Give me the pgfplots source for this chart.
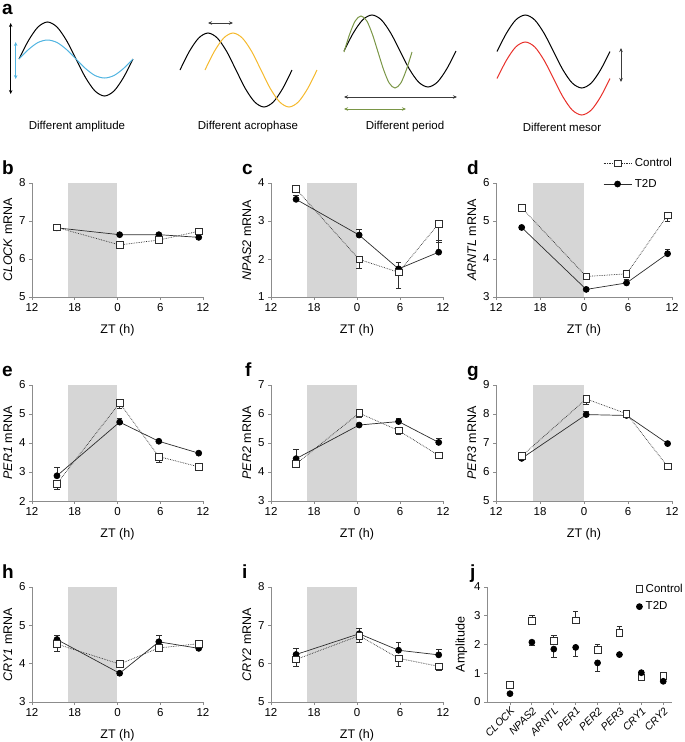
\documentclass[border=0pt]{standalone}
\usepackage{fontspec}
\setmainfont{Liberation Sans}
\usepackage{pgfplots}
\pgfplotsset{compat=1.18}
\usetikzlibrary{arrows.meta}
\definecolor{axg}{RGB}{140,140,140}
\definecolor{ln}{RGB}{45,45,45}
\definecolor{shd}{RGB}{214,214,214}
\definecolor{blu}{RGB}{80,180,225}
\definecolor{yel}{RGB}{245,185,45}
\definecolor{grn}{RGB}{122,150,70}
\definecolor{rd}{RGB}{232,48,42}
\definecolor{arrg}{RGB}{60,60,60}
\newcommand\tks{\fontsize{11.5}{13}\selectfont}
\newcommand\lbs{\fontsize{12.5}{14}\selectfont}
\newcommand\pl{\fontsize{19}{21}\selectfont\bfseries}
\pgfplotsset{
 base/.style={scale only axis, clip=false, axis x line*=bottom, axis y line*=left,
   axis line style={draw=axg, line width=0.8pt}, every tick/.style={draw=axg, line width=0.8pt},
   tick align=outside, major tick length=3pt,
   ticklabel style={font=\tks}, label style={font=\lbs},
   /pgf/number format/assume math mode=true, anchor=south west},
 tp/.style={base, xmin=-12, xmax=12, xtick={-12,-6,0,6,12}, xticklabels={12,18,0,6,12},
   xlabel={ZT (h)}, xlabel style={yshift=-6pt}, ytick distance=1},
 t2d/.style={ln, line width=0.7pt, mark=*, mark size=3pt, mark options={fill=black, draw=black, solid},
   error bars/y dir=plus, error bars/y explicit,
   error bars/error bar style={ln, line width=0.6pt, solid},
   error bars/error mark options={rotate=90, mark size=2.8pt, ln, line width=0.6pt, solid}},
 ctl/.style={ln, line width=0.7pt, densely dotted, mark=square*, mark size=3.3pt,
   mark options={fill=white, draw=ln, solid, line width=0.7pt},
   error bars/y dir=minus, error bars/y explicit,
   error bars/error bar style={ln, line width=0.6pt, solid},
   error bars/error mark options={rotate=90, mark size=2.8pt, ln, line width=0.6pt, solid}},
 wv/.style={smooth, line width=1pt, no marks},
 arr/.style={line width=0.8pt, {Stealth[length=4pt,width=3.5pt]}-{Stealth[length=4pt,width=3.5pt]}},
}
\begin{document}
\begin{tikzpicture}
\useasboundingbox (0,0) rectangle (685pt,-742pt);
% ---------- panel a ----------
\begin{axis}[scale only axis, width=685pt, height=140pt, at={(0pt,0pt)}, anchor=north west,
  xmin=0, xmax=685, ymin=0, ymax=140, y dir=reverse, axis lines=none, clip=false]
\addplot[wv, black] coordinates {(19,59) (28.5,40.5) (38,27) (47.5,22) (57,27) (66.5,40.5) (76,59) (85.5,77.5) (95,91) (104.5,96) (114,91) (123.5,77.5) (133,59)};
\addplot[wv, blu] coordinates {(19,59) (28.5,49.5) (38,42.5) (47.5,40) (57,42.5) (66.5,49.5) (76,59) (85.5,68.5) (95,75.5) (104.5,78) (114,75.5) (123.5,68.5) (133,59)};
\addplot[arr, black] coordinates {(10.7,23) (10.7,94)};
\addplot[arr, blu] coordinates {(15.7,42) (15.7,79)};
\addplot[wv, black] coordinates {(180,70) (189.3,51.5) (198.7,38) (208,33) (217.3,38) (226.7,51.5) (236,70) (245.3,88.5) (254.7,102) (264,107) (273.3,102) (282.7,88.5) (292,70)};
\addplot[wv, yel] coordinates {(205,70) (214.3,51.5) (223.7,38) (233,33) (242.3,38) (251.7,51.5) (261,70) (270.3,88.5) (279.7,102) (289,107) (298.3,102) (307.7,88.5) (317,70)};
\addplot[arr, arrg] coordinates {(208,23) (233,23)};
\addplot[wv, black] coordinates {(344,51) (353.3,33) (362.7,19.8) (372,15) (381.3,19.8) (390.7,33) (400,51) (409.3,69) (418.7,82.2) (428,87) (437.3,82.2) (446.7,69) (456,51)};
\addplot[wv, grn] coordinates {(344,52) (349.7,34) (355.3,20.8) (361,16) (366.7,20.8) (372.3,34) (378,52) (383.7,70) (389.3,83.2) (395,88) (400.7,83.2) (406.3,70) (412,52)};
\addplot[arr, arrg] coordinates {(344,97) (457,97)};
\addplot[arr, grn] coordinates {(344,109) (406,109)};
\addplot[wv, black] coordinates {(497,51.5) (506.4,33.3) (515.8,19.9) (525.3,15) (534.7,19.9) (544.1,33.3) (553.5,51.5) (562.9,69.8) (572.3,83.1) (581.8,88) (591.2,83.1) (600.6,69.8) (610,51.5)};
\addplot[wv, rd] coordinates {(497,78.5) (506.4,60.3) (515.8,46.9) (525.3,42) (534.7,46.9) (544.1,60.3) (553.5,78.5) (562.9,96.8) (572.3,110.1) (581.8,115) (591.2,110.1) (600.6,96.8) (610,78.5)};
\addplot[arr, arrg] coordinates {(621,48) (621,82)};
\node[font=\tks] at (axis cs:77,127) {Different amplitude};
\node[font=\tks] at (axis cs:248,127) {Different acrophase};
\node[font=\tks] at (axis cs:405,127) {Different period};
\node[font=\tks] at (axis cs:562,127) {Different mesor};
\end{axis}
% ---------- b ----------
\begin{axis}[tp, width=171pt, height=114pt, at={(32pt,-297pt)}, ymin=5, ymax=8, ylabel={\textit{CLOCK} mRNA}]
\addplot[fill=shd, draw=none] coordinates {(-7,5) (-7,8) (0,8) (0,5)} -- cycle;
\addplot[t2d] coordinates {(-8.5,6.82) (0.3,6.64) (5.8,6.64) (11.4,6.57)};
\addplot[ctl] coordinates {(-8.5,6.83) (0.3,6.37) (5.8,6.50) (11.4,6.73)};
\end{axis}
% ---------- c ----------
\begin{axis}[tp, width=172pt, height=114pt, at={(271pt,-297pt)}, ymin=1, ymax=4, ylabel={\textit{NPAS2} mRNA}]
\addplot[fill=shd, draw=none] coordinates {(-7,1) (-7,4) (0,4) (0,1)} -- cycle;
\addplot[t2d] coordinates {(-8.5,3.57) +- (0,0.1) (0.3,2.63) +- (0,0.14) (5.8,1.74) +- (0,0.17) (11.4,2.18) +- (0,0.32)};
\addplot[ctl] coordinates {(-8.5,3.84) (0.3,1.99) +- (0,0.24) (5.8,1.65) +- (0,0.42) (11.4,2.93) +- (0,0.5)};
\end{axis}
% ---------- d ----------
\begin{axis}[tp, width=176pt, height=114pt, at={(496pt,-297pt)}, ymin=3, ymax=6, ylabel={\textit{ARNTL} mRNA},
  legend style={draw=none, fill=none, at={(0.608,1.235)}, anchor=north west, font=\tks, row sep=7pt, inner sep=0pt,
    nodes={inner xsep=3pt}},
  legend cell align=left,
  legend image code/.code={\draw[mark repeat=2,mark phase=2,#1] plot coordinates {(0pt,0pt) (14pt,0pt) (28pt,0pt)};}]
\addplot[fill=shd, draw=none, forget plot] coordinates {(-7,3) (-7,6) (0,6) (0,3)} -- cycle;
\addplot[ctl] coordinates {(-8.5,5.35) (0.3,3.54) +- (0,0.05) (5.8,3.61) +- (0,0.05) (11.4,5.15) +- (0,0.17)};
\addlegendentry{Control}
\addplot[t2d] coordinates {(-8.5,4.83) (0.3,3.2) (5.8,3.37) +- (0,0.1) (11.4,4.14) +- (0,0.12)};
\addlegendentry{T2D}
\end{axis}
% ---------- e ----------
\begin{axis}[tp, width=171pt, height=116pt, at={(32pt,-501pt)}, ymin=2, ymax=6, ylabel={\textit{PER1} mRNA}]
\addplot[fill=shd, draw=none] coordinates {(-7,2) (-7,6) (0,6) (0,2)} -- cycle;
\addplot[t2d] coordinates {(-8.5,2.87) +- (0,0.28) (0.3,4.72) +- (0,0.13) (5.8,4.06) (11.4,3.65)};
\addplot[ctl] coordinates {(-8.5,2.6) +- (0,0.2) (0.3,5.38) +- (0,0.17) (5.8,3.53) +- (0,0.18) (11.4,3.18)};
\end{axis}
% ---------- f ----------
\begin{axis}[tp, width=172pt, height=116pt, at={(271pt,-501pt)}, ymin=3, ymax=7, ylabel={\textit{PER2} mRNA}]
\addplot[fill=shd, draw=none] coordinates {(-7,3) (-7,7) (0,7) (0,3)} -- cycle;
\addplot[t2d] coordinates {(-8.5,4.46) +- (0,0.32) (0.3,5.62) (5.8,5.74) +- (0,0.1) (11.4,5.02) +- (0,0.13)};
\addplot[ctl] coordinates {(-8.5,4.28) +- (0,0.1) (0.3,6.03) +- (0,0.15) (5.8,5.43) +- (0,0.12) (11.4,4.57)};
\end{axis}
% ---------- g ----------
\begin{axis}[tp, width=176pt, height=116pt, at={(496pt,-501pt)}, ymin=5, ymax=9, ylabel={\textit{PER3} mRNA}]
\addplot[fill=shd, draw=none] coordinates {(-7,5) (-7,9) (0,9) (0,5)} -- cycle;
\addplot[t2d] coordinates {(-8.5,6.47) (0.3,7.98) +- (0,0.1) (5.8,7.95) (11.4,6.98)};
\addplot[ctl] coordinates {(-8.5,6.55) (0.3,8.52) +- (0,0.2) (5.8,8.01) (11.4,6.19)};
\end{axis}
% ---------- h ----------
\begin{axis}[tp, width=171pt, height=115pt, at={(32pt,-702pt)}, ymin=3, ymax=6, ylabel={\textit{CRY1} mRNA}]
\addplot[fill=shd, draw=none] coordinates {(-7,3) (-7,6) (0,6) (0,3)} -- cycle;
\addplot[t2d] coordinates {(-8.5,4.63) +- (0,0.12) (0.3,3.75) (5.8,4.57) +- (0,0.16) (11.4,4.40)};
\addplot[ctl] coordinates {(-8.5,4.51) +- (0,0.18) (0.3,3.99) +- (0,0.08) (5.8,4.41) (11.4,4.52)};
\end{axis}
% ---------- i ----------
\begin{axis}[tp, width=172pt, height=115pt, at={(271pt,-702pt)}, ymin=5, ymax=8, ylabel={\textit{CRY2} mRNA}]
\addplot[fill=shd, draw=none] coordinates {(-7,5) (-7,8) (0,8) (0,5)} -- cycle;
\addplot[t2d] coordinates {(-8.5,6.24) +- (0,0.16) (0.3,6.78) +- (0,0.15) (5.8,6.35) +- (0,0.2) (11.4,6.23) +- (0,0.14)};
\addplot[ctl] coordinates {(-8.5,6.11) +- (0,0.19) (0.3,6.73) +- (0,0.16) (5.8,6.14) +- (0,0.2) (11.4,5.93) +- (0,0.1)};
\end{axis}
% ---------- j ----------
\begin{axis}[base, width=185pt, height=115pt, at={(487pt,-702pt)}, xmin=-1.05, xmax=7.4, ymin=0, ymax=4, ytick distance=1,
  ylabel={Amplitude}, xtick={0,...,7},
  xticklabels={CLOCK,NPAS2,ARNTL,PER1,PER2,PER3,CRY1,CRY2},
  x tick label style={rotate=45, anchor=north east, font=\fontsize{10.5}{12}\selectfont\itshape, inner sep=1pt},
  legend style={draw=none, fill=none, at={(0.805,1.045)}, anchor=north west, font=\tks, row sep=4pt, inner sep=0pt,
    nodes={inner xsep=3pt}},
  legend cell align=left,
  legend image code/.code={\draw[mark repeat=2,mark phase=2,#1] plot coordinates {(0pt,0pt) (4pt,0pt) (8pt,0pt)};}]
\addplot[ctl, only marks, error bars/y dir=plus] coordinates {(0,0.59) (1,2.83) +- (0,0.18) (2,2.13) +- (0,0.2) (3,2.84) +- (0,0.3) (4,1.82) +- (0,0.2) (5,2.41) +- (0,0.23) (6,0.86) (7,0.91)};
\addlegendentry{Control}
\addplot[t2d, only marks, error bars/y dir=minus] coordinates {(0,0.29) (1,2.08) +- (0,0.12) (2,1.84) +- (0,0.28) (3,1.9) +- (0,0.3) (4,1.36) +- (0,0.28) (5,1.65) (6,1.02) (7,0.72)};
\addlegendentry{T2D}
\end{axis}
% ---------- panel letters ----------
\node[anchor=base west, font=\pl, inner sep=0pt] at (2pt,-14pt) {a};
\node[anchor=base west, font=\pl, inner sep=0pt] at (2pt,-174pt) {b};
\node[anchor=base west, font=\pl, inner sep=0pt] at (242pt,-174pt) {c};
\node[anchor=base west, font=\pl, inner sep=0pt] at (467pt,-174pt) {d};
\node[anchor=base west, font=\pl, inner sep=0pt] at (2pt,-376pt) {e};
\node[anchor=base west, font=\pl, inner sep=0pt] at (245pt,-376pt) {f};
\node[anchor=base west, font=\pl, inner sep=0pt] at (467pt,-376pt) {g};
\node[anchor=base west, font=\pl, inner sep=0pt] at (2pt,-578pt) {h};
\node[anchor=base west, font=\pl, inner sep=0pt] at (242pt,-578pt) {i};
\node[anchor=base west, font=\pl, inner sep=0pt] at (470pt,-578pt) {j};
\end{tikzpicture}
\end{document}
